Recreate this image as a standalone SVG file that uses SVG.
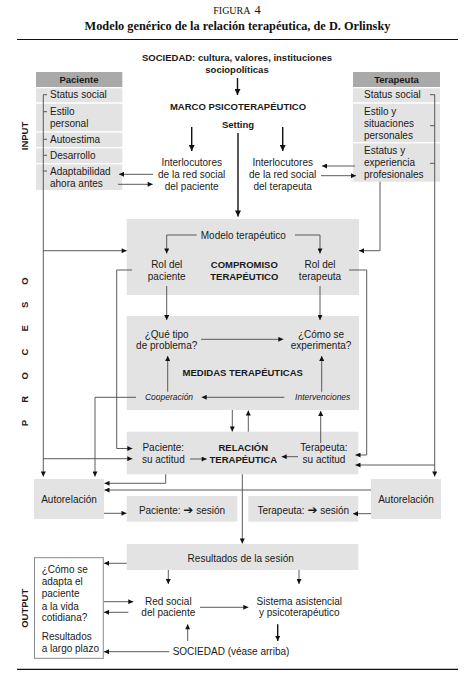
<svg xmlns="http://www.w3.org/2000/svg" width="472" height="683" viewBox="0 0 472 683">
<style>
.t{font-family:"Liberation Sans",Arial,sans-serif;font-size:10px;fill:#1a1a1a}
.b{font-weight:bold;font-size:9.5px}
.m{text-anchor:middle}
.i{font-style:italic;font-size:8.5px}
.ser{font-family:"Liberation Serif","Times New Roman",serif;fill:#111}
.ln{stroke:#4a4a4a;stroke-width:0.9;fill:none}
.lk{stroke:#111;stroke-width:1.4;fill:none}
.g{fill:#e3e3e3}
.h{fill:#a9a9a9}
.rule{stroke:#111;stroke-width:1.2}
.arr{font-family:"DejaVu Sans",sans-serif;font-size:12px;font-weight:bold}
</style>
<defs>
<marker id="a" viewBox="0 0 10 10" refX="10" refY="5" markerWidth="7" markerHeight="5" markerUnits="userSpaceOnUse" orient="auto"><path d="M0,0 L10,5 L0,10 z" fill="#111"/></marker>
<marker id="ak" viewBox="0 0 10 10" refX="10" refY="5" markerWidth="8" markerHeight="6" markerUnits="userSpaceOnUse" orient="auto"><path d="M0,0 L10,5 L0,10 z" fill="#111"/></marker>
</defs>
<rect width="472" height="683" fill="#fff"/>

<g id="title">
<text class="ser m" x="237" y="14"><tspan font-size="10">FIGURA</tspan> <tspan font-size="12.5">4</tspan></text>
<text class="ser m" x="237.5" y="30" font-size="12.3" font-weight="bold">Modelo genérico de la relación terapéutica, de D. Orlinsky</text>
<line class="rule" x1="17" y1="39.5" x2="458" y2="39.5"/>
<line class="rule" x1="17" y1="669.3" x2="458" y2="669.3"/>
</g>

<g id="side-labels">
<text class="t b m" font-size="7.5" transform="translate(28,136) rotate(-90)">INPUT</text>
<text class="t b m" font-size="8" transform="translate(28,352) rotate(-90)" x="-71 -47.3 -23.7 0 23.7 47.3 71">PROCESO</text>
<text class="t b m" font-size="7.5" transform="translate(28,608.3) rotate(-90)">OUTPUT</text>
</g>

<g id="sociedad-top">
<text class="t b m" x="237" y="60.5">SOCIEDAD: cultura, valores, instituciones</text>
<text class="t b m" x="237" y="72.5">sociopolíticas</text>
</g>
<g id="marco">
<text class="t b m" x="238" y="110" font-size="8.9">MARCO PSICOTERAPÉUTICO</text>
<text class="t b m" x="238" y="128">Setting</text>
</g>

<g id="paciente">
<rect class="h" x="36" y="72" width="86.3" height="15"/>
<text class="t b m" x="79" y="83">Paciente</text>
<rect class="g" x="36" y="88.3" width="86.3" height="13.9"/>
<rect class="g" x="36" y="103.7" width="86.3" height="27.5"/>
<rect class="g" x="36" y="132.6" width="86.3" height="14.4"/>
<rect class="g" x="36" y="148.4" width="86.3" height="14.6"/>
<rect class="g" x="36" y="164.4" width="86.3" height="25.6"/>
<text class="t" x="50" y="98.3">Status social</text>
<text class="t" x="50" y="115.3">Estilo</text>
<text class="t" x="50" y="127">personal</text>
<text class="t" x="50" y="142.9">Autoestima</text>
<text class="t" x="50" y="158.9">Desarrollo</text>
<text class="t" x="50" y="174.6">Adaptabilidad</text>
<text class="t" x="50" y="186.9">ahora antes</text>
</g>

<g id="terapeuta">
<rect class="h" x="353" y="72" width="87" height="15"/>
<text class="t b m" x="396.5" y="83">Terapeuta</text>
<rect class="g" x="353" y="88.3" width="87" height="13.9"/>
<rect class="g" x="353" y="103.7" width="87" height="38.3"/>
<rect class="g" x="353" y="143.4" width="87" height="38.3"/>
<text class="t" x="364" y="98.3">Status social</text>
<text class="t" x="364" y="115.3">Estilo y</text>
<text class="t" x="364" y="127">situaciones</text>
<text class="t" x="364" y="138.6">personales</text>
<text class="t" x="364" y="154.3">Estatus y</text>
<text class="t" x="364" y="166.3">experiencia</text>
<text class="t" x="364" y="178.3">profesionales</text>
</g>

<g id="interlocutores-paciente">
<text class="t m" x="191.7" y="166">Interlocutores</text>
<text class="t m" x="191.7" y="178">de la red social</text>
<text class="t m" x="191.7" y="189.8">del paciente</text>
</g>
<g id="interlocutores-terapeuta">
<text class="t m" x="282.7" y="166">Interlocutores</text>
<text class="t m" x="282.7" y="178">de la red social</text>
<text class="t m" x="282.7" y="189.8">del terapeuta</text>
</g>

<g id="compromiso">
<rect class="g" x="126.7" y="219" width="232.3" height="76"/>
<text class="t m" x="243.3" y="238.5">Modelo terapéutico</text>
<text class="t m" x="166.7" y="267.5">Rol del</text>
<text class="t m" x="166.7" y="279.5">paciente</text>
<text class="t m" x="320" y="267.5">Rol del</text>
<text class="t m" x="320" y="279.5">terapeuta</text>
<text class="t b m" x="244.3" y="267.5">COMPROMISO</text>
<text class="t b m" x="244.3" y="279.5">TERAPÉUTICO</text>
</g>

<g id="medidas">
<rect class="g" x="126.7" y="316" width="232.3" height="94"/>
<text class="t m" x="166.7" y="337.5">¿Qué tipo</text>
<text class="t m" x="166.7" y="349.3">de problema?</text>
<text class="t m" x="321" y="337.5">¿Cómo se</text>
<text class="t m" x="321" y="349.3">experimenta?</text>
<text class="t b m" x="242.7" y="376">MEDIDAS TERAPÉUTICAS</text>
<text class="t i m" x="169" y="400.2">Cooperación</text>
<text class="t i m" x="322.7" y="400.2">Intervenciones</text>
</g>

<g id="relacion">
<rect class="g" x="126.7" y="431.7" width="231.6" height="42.6"/>
<text class="t m" x="163.3" y="450.5">Paciente:</text>
<text class="t m" x="163.3" y="462.5">su actitud</text>
<text class="t b m" x="243.3" y="450.5">RELACIÓN</text>
<text class="t b m" x="243.3" y="462.5">TERAPÉUTICA</text>
<text class="t m" x="324" y="450.5">Terapeuta:</text>
<text class="t m" x="324" y="462.5">su actitud</text>
</g>

<g id="autorelacion-paciente">
<rect class="g" x="34" y="479" width="70" height="40"/>
<text class="t m" x="69" y="503.4">Autorelación</text>
</g>
<g id="autorelacion-terapeuta">
<rect class="g" x="371" y="479" width="70" height="40"/>
<text class="t m" x="406" y="503.4">Autorelación</text>
</g>
<g id="paciente-sesion">
<rect class="g" x="126.7" y="496" width="110.6" height="25.7"/>
<text class="t m" x="182" y="513.5">Paciente: <tspan class="arr">➔</tspan> sesión</text>
</g>
<g id="terapeuta-sesion">
<rect class="g" x="248.3" y="496" width="110" height="25.7"/>
<text class="t m" x="303.3" y="513.5">Terapeuta: <tspan class="arr">➔</tspan> sesión</text>
</g>

<g id="resultados">
<rect class="g" x="126.7" y="544" width="231.6" height="26"/>
<text class="t m" x="240.7" y="561.7">Resultados de la sesión</text>
</g>

<g id="output-box">
<rect x="34.5" y="557.7" width="68.8" height="100.6" fill="#fff" stroke="#8a8a8a" stroke-width="1"/>
<text class="t" x="41.7" y="572.5">¿Cómo se</text>
<text class="t" x="41.7" y="585.2">adapta el</text>
<text class="t" x="41.7" y="596.8">paciente</text>
<text class="t" x="41.7" y="609.5">a la vida</text>
<text class="t" x="41.7" y="620.8">cotidiana?</text>
<text class="t" x="41.7" y="639.5">Resultados</text>
<text class="t" x="41.7" y="651.8">a largo plazo</text>
</g>

<g id="red-social">
<text class="t m" x="168.3" y="604.5">Red social</text>
<text class="t m" x="168.3" y="615.8">del paciente</text>
</g>
<g id="sistema">
<text class="t m" x="299.3" y="604.5">Sistema asistencial</text>
<text class="t m" x="299.3" y="615.8">y psicoterapéutico</text>
</g>
<g id="sociedad-bottom">
<text class="t m" x="231" y="655.2">SOCIEDAD (véase arriba)</text>
</g>

<g id="connectors">
<line class="lk" x1="237.5" y1="78" x2="237.5" y2="95" marker-end="url(#ak)"/>
<line class="lk" x1="238" y1="133" x2="238" y2="216.5" marker-end="url(#ak)"/>
<line class="lk" x1="191.7" y1="127" x2="191.7" y2="151" marker-end="url(#ak)"/>
<line class="lk" x1="282.7" y1="127" x2="282.7" y2="151" marker-end="url(#ak)"/>
<line class="ln" x1="153" y1="174.3" x2="119" y2="174.3" marker-end="url(#a)"/>
<line class="ln" x1="118" y1="184.3" x2="152.7" y2="184.3" marker-end="url(#a)"/>
<line class="ln" x1="355" y1="166" x2="322" y2="166" marker-end="url(#a)"/>
<line class="ln" x1="321" y1="175.7" x2="356" y2="175.7" marker-end="url(#a)"/>
<path class="ln" d="M47,94.7 H43.3 V476.5" marker-end="url(#a)"/>
<path class="ln" d="M43.3,111.7 H47 M43.3,139.3 H47 M43.3,155.3 H47 M43.3,171 H47"/>
<line class="ln" x1="43.3" y1="250.7" x2="126.7" y2="250.7" marker-end="url(#a)"/>
<line class="ln" x1="43.3" y1="458.7" x2="132.3" y2="458.7" marker-end="url(#a)"/>
<path class="ln" d="M430,94.7 H434.7 V476.5" marker-end="url(#a)"/>
<path class="ln" d="M434.7,125.7 H430 M434.7,163.3 H430"/>
<line class="ln" x1="434.7" y1="465" x2="355.5" y2="465" marker-end="url(#a)"/>
<path class="ln" d="M380,181.7 V250.7 H359" marker-end="url(#a)"/>
<path class="ln" d="M196.7,235 H166.7 V253.5" marker-end="url(#a)"/>
<path class="ln" d="M295,235 H320 V253.5" marker-end="url(#a)"/>
<line class="ln" x1="166.7" y1="286" x2="166.7" y2="320" marker-end="url(#a)"/>
<line class="ln" x1="320" y1="286" x2="320" y2="320" marker-end="url(#a)"/>
<path class="ln" d="M132,270 H116.7 V448.5 H132.3" marker-end="url(#a)"/>
<path class="ln" d="M349,270 H366.7 V455 H355.5" marker-end="url(#a)"/>
<line class="ln" x1="201" y1="339.3" x2="283.3" y2="339.3" marker-end="url(#a)"/>
<line class="ln" x1="284.3" y1="397.3" x2="201.7" y2="397.3" marker-end="url(#a)"/>
<line class="ln" x1="167.7" y1="391.7" x2="167.7" y2="356" marker-end="url(#a)"/>
<line class="ln" x1="321.7" y1="391.7" x2="321.7" y2="356" marker-end="url(#a)"/>
<path class="ln" d="M136,397.3 H95 V476.5" marker-end="url(#a)"/>
<line class="ln" x1="232.3" y1="410" x2="232.3" y2="431.5" marker-end="url(#a)"/>
<line class="ln" x1="248.3" y1="431.7" x2="248.3" y2="410.5" marker-end="url(#a)"/>
<line class="ln" x1="320.7" y1="443" x2="320.7" y2="411" marker-end="url(#a)"/>
<line class="ln" x1="190" y1="459" x2="206.7" y2="459" marker-end="url(#a)"/>
<line class="ln" x1="298" y1="456.7" x2="281.7" y2="456.7" marker-end="url(#a)"/>
<path class="ln" d="M165.7,474.3 V483.3 H104.5" marker-end="url(#a)"/>
<line class="ln" x1="371" y1="490" x2="104.5" y2="490" marker-end="url(#a)"/>
<line class="ln" x1="104" y1="513.3" x2="126.5" y2="513.3" marker-end="url(#a)"/>
<line class="ln" x1="371" y1="513.7" x2="353" y2="513.7" marker-end="url(#a)"/>
<line class="ln" x1="242.3" y1="474.3" x2="242.3" y2="543.5" marker-end="url(#a)"/>
<line class="ln" x1="126.7" y1="563.3" x2="104" y2="563.3" marker-end="url(#a)"/>
<line class="ln" x1="168.3" y1="570" x2="168.3" y2="584" marker-end="url(#a)"/>
<line class="ln" x1="299" y1="570" x2="299" y2="584" marker-end="url(#a)"/>
<line class="ln" x1="104" y1="601.7" x2="133.3" y2="601.7" marker-end="url(#a)"/>
<line class="ln" x1="128.3" y1="612.3" x2="104" y2="612.3" marker-end="url(#a)"/>
<line class="ln" x1="200" y1="607.3" x2="248.3" y2="607.3" marker-end="url(#a)"/>
<line class="lk" x1="277.7" y1="624.3" x2="277.7" y2="641" marker-end="url(#a)"/>
<line class="ln" x1="187.7" y1="641" x2="187.7" y2="624.3" marker-end="url(#a)"/>
<line class="ln" x1="169.3" y1="651.7" x2="104" y2="651.7" marker-end="url(#a)"/>
</g>
</svg>
